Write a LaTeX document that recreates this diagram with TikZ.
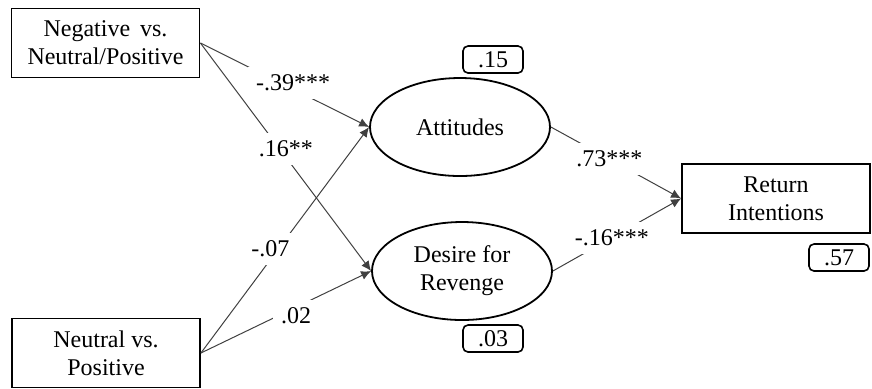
\documentclass[tikz,border=0pt]{standalone}
\usepackage{fontspec}
\setmainfont{Liberation Serif}
\usetikzlibrary{arrows.meta,shapes.geometric}

\begin{document}
\begin{tikzpicture}[
    x=0.5pt, y=-0.5pt,
    font=\fontsize{12}{14}\selectfont,
    obs/.style={draw,rectangle,line width=0.9pt,align=center,minimum width=94pt,minimum height=34.5pt,inner sep=0pt},
    lat/.style={draw,ellipse,line width=0.9pt,align=center,minimum width=90pt,minimum height=49pt,inner sep=0pt},
    rsq/.style={draw,line width=0.8pt,rounded corners=2.5pt,minimum width=30pt,minimum height=13.5pt,inner sep=0pt},
    coef/.style={fill=white,text=black,inner sep=4pt},
    path/.style={-{Latex[length=5pt,width=4.5pt]},black!75,line width=0.5pt},
]
\useasboundingbox (0,0) rectangle (872,388);

% Predictors
\node[obs] (neg) at (105.5,43) {Negative\, vs.\\Neutral/Positive};
\node[obs] (neu) at (106,353) {Neutral vs.\\Positive};

% Mediators
\node[lat] (att) at (460,127) {Attitudes};
\node[lat] (rev) at (462,271) {Desire for\\Revenge};
\node[rsq] (r2att) at (493,59.5) {.15};
\node[rsq] (r2rev) at (493,338.5) {.03};

% Outcome
\node[obs] (ret) at (776,198.5) {Return\\Intentions};
\node[rsq] (r2ret) at (839,257.5) {.57};

% Paths
\draw[path] (neg.east) -- node[coef,pos=0.55,yshift=3pt] {-.39***} (att.west);
\draw[path] (neg.east) -- node[coef,pos=0.5,yshift=4pt] {.16**} (rev.west);
\draw[path] (neu.east) -- node[coef,pos=0.46,xshift=-4pt] {-.07} (att.west);
\draw[path] (neu.east) -- node[coef,pos=0.56,yshift=-4.5pt] {.02} (rev.west);
\draw[path] (att.east) -- node[coef,pos=0.45] {.73***} (ret.west);
\draw[path] (rev.east) -- node[coef,pos=0.46] {-.16***} (ret.west);
\end{tikzpicture}
\end{document}
